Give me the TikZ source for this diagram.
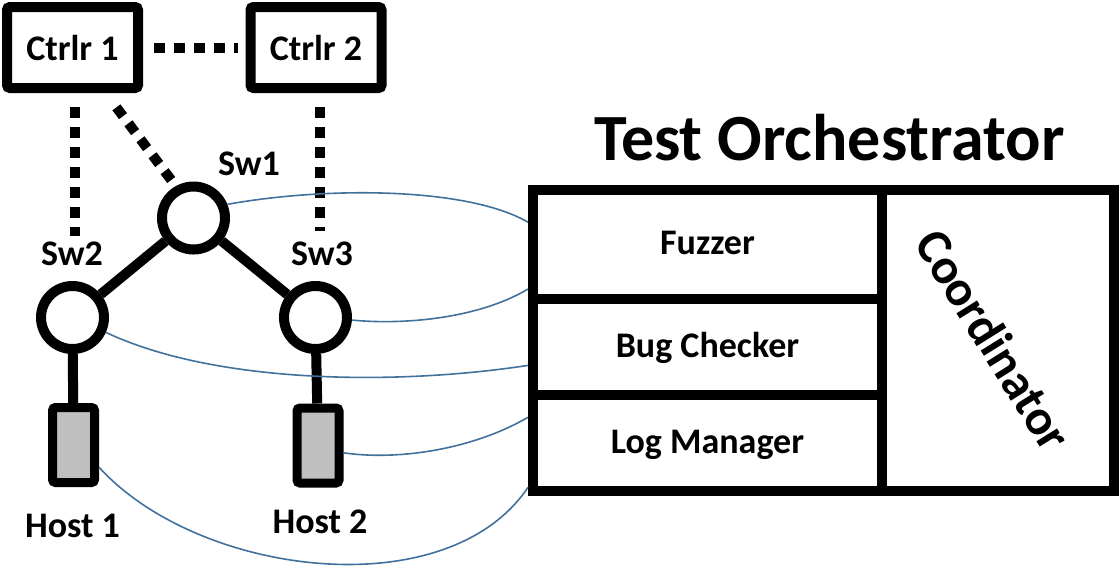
\documentclass[tikz,border=0pt]{standalone}
\usepackage{fontspec}
\setmainfont{Carlito}
\usetikzlibrary{positioning}
\definecolor{linkblue}{RGB}{65,113,156}
\definecolor{hostgray}{RGB}{191,191,191}

\begin{document}
\begin{tikzpicture}[x=0.5pt,y=-0.5pt,
      ctrl/.style={rectangle,draw,line width=5pt,rounded corners=1.5pt,minimum width=65.5pt,minimum height=40.5pt,inner sep=0pt,font=\fontsize{18}{20}\selectfont\bfseries},
      switch/.style={circle,draw,line width=5pt,fill=white,minimum size=31.5pt,inner sep=0pt},
      host/.style={rectangle,draw,line width=4.5pt,fill=hostgray,rounded corners=1.5pt,minimum width=21pt,minimum height=37.5pt,inner sep=0pt},
      lbl/.style={anchor=base,inner sep=0pt,font=\fontsize{18}{20}\selectfont\bfseries},
      module/.style={rectangle,draw,line width=5pt,minimum width=174.5pt,minimum height=48pt,inner sep=0pt,text height=10.5pt,text depth=0pt,font=\fontsize{18}{20}\selectfont\bfseries},
      ctrlline/.style={line width=5pt,dash pattern=on 5.5pt off 4.5pt},
      wire/.style={line width=5pt},
      link/.style={linkblue,line width=0.8pt}
      ]
      \useasboundingbox (0,0) rectangle (1119,570);
      % controllers
      \node (c1) [ctrl] at (72.5,47.5) {Ctrlr 1};
      \node (c2) [ctrl] at (316,47.5)  {Ctrlr 2};
      % switches and hosts
      \node (sw1) [switch] at (193.5,218) {};
      \node (sw2) [switch] at (72.5,317.5) {};
      \node (sw3) [switch] at (315.5,317.5) {};
      \node (h1) [host] at (73.5,445) {};
      \node (h2) [host] at (318,445.5) {};
      \node (l1) [lbl] at (249,175) {Sw1};
      \node (l2) [lbl] at (72,265) {Sw2};
      \node (l3) [lbl] at (322,265) {Sw3};
      \node (l4) [lbl] at (72.5,537) {Host 1};
      \node (l5) [lbl] at (320,533) {Host 2};
      \draw[wire] (sw1) -- (sw2);
      \draw[wire] (sw1) -- (sw3);
      \draw[wire] (sw2) -- (h1);
      \draw[wire] (sw3) -- (h2);
      % control channels
      \draw[ctrlline,shorten <=5.5pt,shorten >=4pt] (c1.east) -- (c2.west);
      \draw[ctrlline,shorten <=7pt,shorten >=2.3pt] ([xshift=1.25pt]c1.south) -- ([xshift=1.25pt]c1.south |- l2.north);
      \draw[ctrlline,shorten <=9pt,shorten >=3.6pt] (c1.-54) -- (sw1.119);
      \draw[ctrlline,shorten <=7pt,shorten >=4.8pt] ([xshift=2pt]c2.south) -- ([xshift=2pt]c2.south |- l3.north);
      % orchestrator
      \node (title) [lbl,font=\fontsize{33}{36}\selectfont\bfseries] at (829.5,160) {Test Orchestrator};
      \node (fuz) [module,minimum height=54.25pt] at (707.5,244.25) {Fuzzer};
      \node (bug) [module] at (707.5,346.5) {Bug Checker};
      \node (log) [module] at (707.5,442.5) {Log Manager};
      \node (coord) [rectangle,draw,line width=5pt,minimum width=116pt,minimum height=150.25pt] at (998,340.375) {};
      \node (ctext) [rotate=-58,font=\fontsize{25}{28}\selectfont\bfseries] at (994,340) {Coordinator};
      % links to the orchestrator
      \draw[link] (sw1.22) .. controls +(100,-18) and +(-60,-35) .. (fuz.173);
      \draw[link] (sw3.-4) .. controls +(50,5) and +(-50,30) .. (fuz.194);
      \draw[link] (sw2.-24) .. controls +(110,52) and +(-130,20) .. (bug.186);
      \draw[link] (h2.-16) .. controls +(55,8) and +(-55,32) .. (log.172);
      \draw[link] (h1.-41) .. controls +(100,110) and +(-80,120) .. (log.194);
\end{tikzpicture}
\end{document}
